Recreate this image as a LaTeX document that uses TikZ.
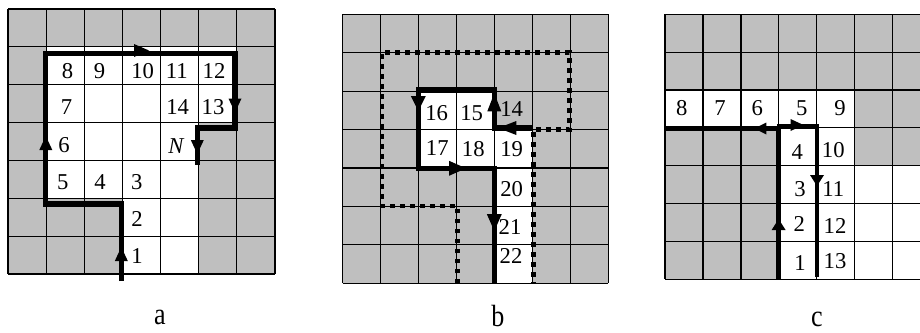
\documentclass[tikz,border=0pt]{standalone}
\usepackage{fontspec}
\setmainfont{Liberation Serif}
\begin{document}
\begin{tikzpicture}[x=0.75pt,y=-0.75pt,
  cellgray/.style={fill=black!25},
  gridline/.style={draw=black, line width=0.9pt},
  route/.style={draw=black, line width=3.8pt, line join=miter},
  routec/.style={draw=black, line width=3.2pt, line join=miter},
  dotroute/.style={draw=black, line width=3.3pt, dash pattern=on 3.6pt off 3.9pt},
  num/.style={inner sep=0pt, font=\fontsize{17}{20}\selectfont},
  panellabel/.style={inner sep=0pt, anchor=base, xscale=0.85, font=\fontsize{23}{26}\selectfont},
  pics/head/.style 2 args={code={\fill[black] (0,0) -- (-#1,#2/2) -- (-#1,-#2/2) -- cycle;}}
]
\useasboundingbox (0,0) rectangle (920,332);
\clip (0,0) rectangle (920,332);

% ---------- panel a ----------
\begin{scope}[shift={(8,9)}, xscale=38.14, yscale=37.86]
  \fill[cellgray] (0,0) rectangle (7,7);
  \fill[white] (1,1) rectangle (6,3);
  \fill[white] (1,3) rectangle (5,5);
  \fill[white] (3,5) rectangle (5,7);
  \foreach \i in {0,...,7} {
    \draw[gridline] (\i,0) -- (\i,7);
    \draw[gridline] (0,\i) -- (7,\i);
  }
\end{scope}
\node[num] (a8)  at (67.5,71) {8};
\node[num] (a9)  at (99.5,71) {9};
\node[num] (a10) at (142.7,71) {10};
\node[num] (a11) at (176.7,71) {11};
\node[num] (a12) at (214,71) {12};
\node[num] (a7)  at (66.5,107) {7};
\node[num] (a14) at (177.7,107) {14};
\node[num] (a13) at (213,107) {13};
\node[num] (a6)  at (64,145) {6};
\node[num] (aN)  at (176,146.5) {\itshape N};
\node[num] (a5)  at (62.7,182) {5};
\node[num] (a4)  at (100,182) {4};
\node[num] (a3)  at (136.7,182) {3};
\node[num] (a2)  at (137,219) {2};
\node[num] (a1)  at (137,256.5) {1};
\draw[route] (121.3,281) -- (121.3,204) -- (45.8,204) -- (45.8,53.3) -- (235,53.3)
  -- (235,128) -- (197.3,128) -- (197.3,165);
\pic[rotate=90]  at (121.3,247) {head={14}{13}};
\pic[rotate=90]  at (45.8,136)  {head={14}{13}};
\pic             at (149,50.5)  {head={15}{13}};
\pic[rotate=-90] at (235,112.5) {head={14}{13}};
\pic[rotate=-90] at (197.3,154) {head={14}{13}};
\node[panellabel] (la) at (160,324) {a};

% ---------- panel b ----------
\begin{scope}[shift={(342.7,14.3)}, xscale=37.95, yscale=38.43]
  \fill[cellgray] (0,0) rectangle (7,7);
  \fill[white] (2,2) rectangle (4,3);
  \fill[white] (2,3) rectangle (5,4);
  \fill[white] (4,4) rectangle (5,7);
  \foreach \i in {0,...,7} {
    \draw[gridline] (\i,0) -- (\i,7);
    \draw[gridline] (0,\i) -- (7,\i);
  }
\end{scope}
\node[num] (b16) at (436.7,113) {16};
\node[num] (b15) at (471.7,113) {15};
\node[num] (b14) at (511.7,109) {14};
\node[num] (b17) at (437.3,148.5) {17};
\node[num] (b18) at (473.3,149) {18};
\node[num] (b19) at (511.7,149) {19};
\node[num] (b20) at (511.7,189) {20};
\node[num] (b21) at (510,227) {21};
\node[num] (b22) at (511,256) {22};
\draw[dotroute] (457.3,283.3) -- (457.3,206) -- (381.7,206) -- (381.7,52.3)
  -- (569.3,52.3) -- (569.3,129.3) -- (533.3,129.3) -- (533.3,283.3);
\draw[route] (533.3,128) -- (494.3,128) -- (494.3,90) -- (418.3,90)
  -- (418.3,168.3) -- (494.3,168.3) -- (494.3,283.3);
\pic[rotate=180] at (498.3,128)   {head={18}{14}};
\pic[rotate=90]  at (494.3,93.3)  {head={18}{14}};
\pic[rotate=-90] at (418.3,111)   {head={15}{15}};
\pic             at (466,168.3)   {head={17}{15}};
\pic[rotate=-90] at (494.3,231)   {head={17}{15}};
\node[panellabel] (lb) at (498,326.5) {b};

% ---------- panel c ----------
\begin{scope}[shift={(665,14.3)}, xscale=37.95, yscale=37.86]
  \fill[cellgray] (0,0) rectangle (7,7);
  \fill[white] (0,2) rectangle (5,3);
  \fill[white] (3,3) rectangle (5,4);
  \fill[white] (3,4) rectangle (7,7);
  \foreach \i in {0,...,7} {
    \draw[gridline] (\i,0) -- (\i,7);
    \draw[gridline] (0,\i) -- (7,\i);
  }
\end{scope}
\node[num] (c8)  at (681.7,108.3) {8};
\node[num] (c7)  at (720,108.3) {7};
\node[num] (c6)  at (757.3,108.3) {6};
\node[num] (c5)  at (801.7,108.3) {5};
\node[num] (c9)  at (840,108.3) {9};
\node[num] (c4)  at (797.3,151.7) {4};
\node[num] (c10) at (833.3,150) {10};
\node[num] (c3)  at (800,189.3) {3};
\node[num] (c11) at (833.3,189.3) {11};
\node[num] (c2)  at (799.3,224) {2};
\node[num] (c12) at (835,226) {12};
\node[num] (c1)  at (800,263.3) {1};
\node[num] (c13) at (835,260.7) {13};
\draw[routec] (665,128.5) -- (780,128.5);
\draw[routec] (778.6,279.3) -- (778.6,126.5);
\draw[routec] (777,126.5) -- (817,126.5) -- (817,277);
\pic[rotate=90]  at (778.6,219) {head={11}{14}};
\pic[rotate=180] at (754.3,128.5) {head={12}{12}};
\pic             at (803.5,125)   {head={13}{12}};
\pic[rotate=-90] at (817,186)   {head={11}{14}};
\node[panellabel] (lc) at (817,326.5) {c};
\end{tikzpicture}
\end{document}
